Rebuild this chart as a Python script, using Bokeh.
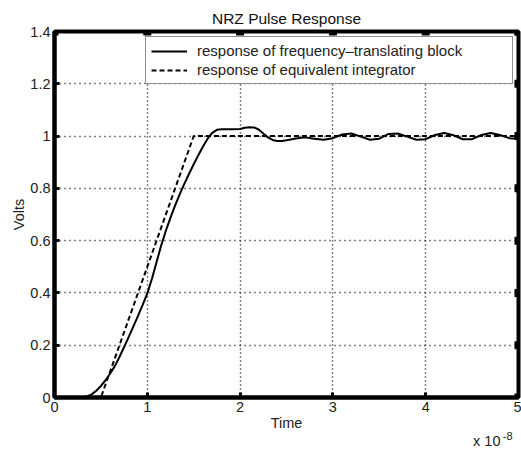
from bokeh.plotting import figure
from bokeh.models import (FixedTicker, Range1d, Legend, LegendItem, Title)
from bokeh.embed import file_html
from bokeh.resources import INLINE

# Time axis values are in units of 1e-8 s
t_block = [0.0, 0.3, 0.35, 0.4, 0.45, 0.5, 0.55, 0.6, 0.65, 0.7, 0.75, 0.8, 0.85,
           0.9, 0.95, 1.0, 1.05, 1.1, 1.15, 1.2, 1.25, 1.3, 1.35, 1.4, 1.45, 1.5,
           1.55, 1.6, 1.65, 1.7, 1.75, 1.8, 1.9, 2.0, 2.05, 2.1, 2.15, 2.2, 2.25,
           2.3, 2.35, 2.4, 2.45, 2.5, 2.6, 2.7, 2.8, 2.9, 3.0, 3.1, 3.2, 3.3, 3.4,
           3.5, 3.6, 3.7, 3.8, 3.9, 4.0, 4.1, 4.2, 4.3, 4.4, 4.5, 4.6, 4.7, 4.8,
           4.9, 5.0]
v_block = [0.0, 0.0, 0.004, 0.012, 0.026, 0.044, 0.066, 0.092, 0.12, 0.155, 0.193,
           0.232, 0.272, 0.312, 0.354, 0.398, 0.454, 0.518, 0.582, 0.638, 0.688,
           0.735, 0.778, 0.818, 0.856, 0.892, 0.927, 0.96, 0.99, 1.012, 1.024,
           1.026, 1.026, 1.027, 1.032, 1.034, 1.033, 1.025, 1.01, 0.995, 0.985,
           0.981, 0.981, 0.984, 0.991, 0.995, 0.99, 0.986, 0.992, 1.006, 1.01,
           0.998, 0.986, 0.99, 1.008, 1.01, 0.998, 0.986, 0.988, 1.004, 1.012,
           1.003, 0.988, 0.988, 1.004, 1.012, 1.004, 0.992, 0.99]

t_integ = [0.0, 0.5, 1.5, 5.0]
v_integ = [0.0, 0.0, 1.0, 1.0]

x_ticks = [0, 1, 2, 3, 4, 5]
x_tick_labels = ["0", "1", "2", "3", "4", "5"]
y_ticks = [0, 0.2, 0.4, 0.6, 0.8, 1.0, 1.2, 1.4]
y_tick_labels = ["0", "0.2", "0.4", "0.6", "0.8", "1", "1.2", "1.4"]

FONT = "Liberation Sans"
INK = "#222222"

x0, x1 = x_ticks[0], x_ticks[-1]
y0, y1 = y_ticks[0], y_ticks[-1]

p = figure(width=521, height=452, output_backend="svg", toolbar_location=None,
           x_range=Range1d(x0, x1), y_range=Range1d(y0, y1),
           min_border_left=54, min_border_right=3, min_border_top=31,
           min_border_bottom=55, title="NRZ Pulse Response")
p.background_fill_color = "white"
p.border_fill_color = "white"
p.outline_line_color = "black"
p.outline_line_width = 4
p.outline_line_alpha = 1.0

p.title.align = "center"
p.title.text_font = FONT
p.title.text_font_size = "15.5px"
p.title.text_font_style = "normal"
p.title.text_color = "#111111"

for ax, ticks, labels in ((p.xaxis[0], x_ticks, x_tick_labels),
                          (p.yaxis[0], y_ticks, y_tick_labels)):
    ax.ticker = FixedTicker(ticks=ticks)
    ax.major_label_overrides = {tk: lb for tk, lb in zip(ticks, labels)}
    ax.major_label_text_font = FONT
    ax.major_label_text_font_size = "14.5px"
    ax.major_label_text_color = INK
    ax.major_label_standoff = 4
    ax.axis_line_width = 4
    ax.axis_line_color = "black"
    ax.major_tick_in = 5
    ax.major_tick_out = 0
    ax.major_tick_line_width = 3
    ax.major_tick_line_color = "black"
    ax.minor_tick_line_color = None
    ax.axis_label_text_font = FONT
    ax.axis_label_text_font_size = "14.5px"
    ax.axis_label_text_font_style = "normal"
    ax.axis_label_text_color = INK
    ax.axis_label_standoff = 0

p.xaxis.axis_label = "Time"
p.yaxis.axis_label = "Volts"

p.xgrid.ticker = FixedTicker(ticks=x_ticks)
p.ygrid.ticker = FixedTicker(ticks=y_ticks)
for g, dash in ((p.xgrid, "1 3"), (p.ygrid, "1 4")):
    g.grid_line_color = "black"
    g.grid_line_width = 1.4
    g.grid_line_dash = dash
    g.grid_line_alpha = 1.0

r1 = p.line(t_block, v_block, line_color="black", line_width=2)
r2 = p.line(t_integ, v_integ, line_color="black", line_width=2, line_dash="5 3")

# inward tick marks on the top and right edges (glyphs are clipped to the frame)
p.scatter(x_ticks, [y1] * len(x_ticks), marker="square", size=8,
          fill_color="black", line_color=None)
p.scatter([x1] * len(y_ticks), y_ticks, marker="square", size=8,
          fill_color="black", line_color=None)

legend = Legend(items=[
    LegendItem(label="response of frequency\u2013translating block", renderers=[r1]),
    LegendItem(label="response of equivalent integrator", renderers=[r2]),
], location="top_right")
legend.margin = 5
legend.padding = 5
legend.spacing = 2
legend.glyph_width = 36
legend.glyph_height = 16
legend.label_height = 16
legend.label_standoff = 10
legend.label_width = 310
legend.label_text_font = FONT
legend.label_text_font_size = "15px"
legend.label_text_color = INK
legend.border_line_color = INK
legend.border_line_width = 1
legend.background_fill_color = "white"
legend.background_fill_alpha = 1.0
p.add_layout(legend)

# exponent note for the time axis: raised "-8" then the "x 10" base below it
p.add_layout(Title(text="-8", align="right", text_font=FONT,
                   text_font_size="11px", text_font_style="normal",
                   text_color=INK, standoff=-12, offset=6), "below")
p.add_layout(Title(text="x 10", align="right", text_font=FONT,
                   text_font_size="14.5px", text_font_style="normal",
                   text_color=INK, standoff=-6, offset=18), "below")

open("out.html", "w").write(file_html(p, INLINE))
